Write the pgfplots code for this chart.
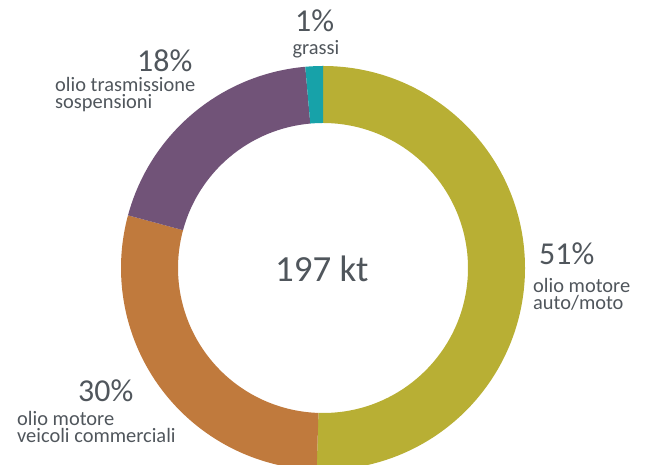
\documentclass[border=0pt]{standalone}
\usepackage{fontspec}
\setmainfont{Carlito}
\usepackage{pgfplots}
\usepackage{pgfplotstable}
\pgfplotsset{compat=1.18}
\definecolor{c0}{HTML}{B8AF34}
\definecolor{c1}{HTML}{C07A3D}
\definecolor{c2}{HTML}{715378}
\definecolor{c3}{HTML}{17A2A9}
\definecolor{txt}{HTML}{50565C}
\pgfplotstableread{
value
50.5
28.7
19.4
1.4
}\donut
\begin{document}
\begin{tikzpicture}
\gdef\cum{0}
\pgfplotstableforeachcolumnelement{value}\of\donut\as\v{%
  \pgfmathsetmacro\a{90-3.6*\cum}%
  \pgfmathsetmacro\newcum{\cum+\v}%
  \pgfmathsetmacro\b{90-3.6*\newcum}%
  \expandafter\xdef\csname segA\pgfplotstablerow\endcsname{\a}%
  \expandafter\xdef\csname segB\pgfplotstablerow\endcsname{\b}%
  \xdef\cum{\newcum}%
}
\begin{axis}[
  hide axis, scale only axis,
  x=1bp, y=1bp,
  xmin=0, xmax=653, ymin=0, ymax=465,
  clip=true,
]
\addplot[draw=none] coordinates {(0,0) (653,465)};
\pgfplotsinvokeforeach{0,...,3}{
  \fill[c#1, shift={(axis cs:323,197)}]
    (\csname segA#1\endcsname:202bp)
    arc[start angle=\csname segA#1\endcsname, end angle=\csname segB#1\endcsname, radius=202bp]
    -- (\csname segB#1\endcsname:145bp)
    arc[start angle=\csname segB#1\endcsname, end angle=\csname segA#1\endcsname, radius=145bp]
    -- cycle;
}
\tikzset{lab/.style={inner sep=0pt, anchor=base west, align=left, text=txt, font=\fontsize{20.5}{17.5}\selectfont},
         pct/.style={inner sep=0pt, anchor=base west, text=txt, font=\fontsize{32}{32}\selectfont}}
\node[pct] at (axis cs:295,433) {1\%};
\node[lab, anchor=base] at (axis cs:316,410) {grassi};
\node[pct] at (axis cs:137,393) {18\%};
\node[lab] at (axis cs:55,356) {olio trasmissione\\sospensioni};
\node[pct] at (axis cs:539,200) {51\%};
\node[lab] at (axis cs:533,155) {olio motore\\auto/moto};
\node[pct] at (axis cs:78,63) {30\%};
\node[lab] at (axis cs:17,22) {olio motore\\veicoli commerciali};
\node[inner sep=0pt, anchor=base west, text=txt, font=\fontsize{37}{37}\selectfont] at (axis cs:275,183) {197 kt};
\end{axis}
\end{tikzpicture}
\end{document}
